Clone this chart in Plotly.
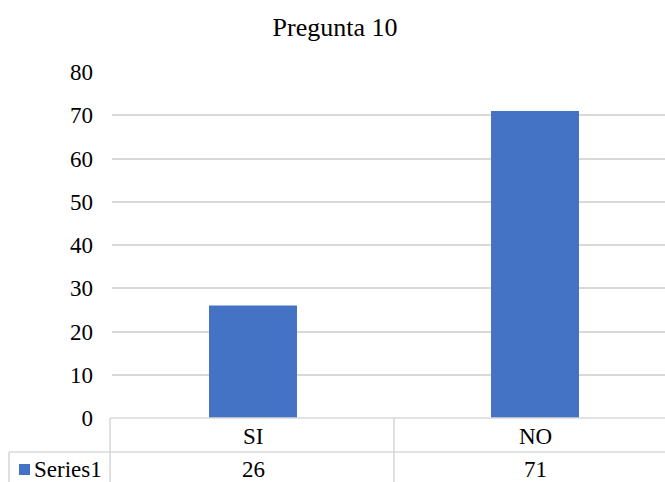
import plotly.graph_objects as go

categories = ["SI", "NO"]
values = [26, 71]
series_name = "Series1"
title_text = "Pregunta 10"
y_ticks = [0, 10, 20, 30, 40, 50, 60, 70, 80]

W, H = 665, 482
L, R, T, B = 112, 0, 72, 64
bar_color = "#4472C4"
grid_color = "#d9d9d9"
font_family = "Liberation Serif"
text_size = 23

plot_w = W - L - R
plot_h = H - T - B


def px_x(px):
    return (px - L) / plot_w


def px_y(py):
    return (H - B - py) / plot_h


fig = go.Figure(
    go.Bar(
        x=categories,
        y=values,
        marker=dict(color=bar_color, line=dict(width=0)),
        name=series_name,
        showlegend=False,
    )
)

# data-table grid under the plot
line_style = dict(color=grid_color, width=1.6)
shapes = [
    dict(type="line", xref="paper", yref="paper", x0=px_x(110), x1=1, y0=0, y1=0, line=line_style),
    dict(type="line", xref="paper", yref="paper", x0=px_x(9), x1=1, y0=px_y(452), y1=px_y(452), line=line_style),
    dict(type="line", xref="paper", yref="paper", x0=px_x(110), x1=px_x(110), y0=0, y1=px_y(482), line=line_style),
    dict(type="line", xref="paper", yref="paper", x0=px_x(394), x1=px_x(394), y0=0, y1=px_y(482), line=line_style),
    dict(type="line", xref="paper", yref="paper", x0=px_x(9), x1=px_x(9), y0=px_y(452), y1=px_y(482), line=line_style),
    # legend key
    dict(type="rect", xref="paper", yref="paper", x0=px_x(19), x1=px_x(30), y0=px_y(475), y1=px_y(464),
         fillcolor=bar_color, line=dict(width=0)),
]

annotations = []
for cat, val in zip(categories, values):
    annotations.append(dict(x=cat, xref="x", y=px_y(436), yref="paper", text=cat, showarrow=False,
                            font=dict(family=font_family, size=text_size, color="#000"), yanchor="middle"))
    annotations.append(dict(x=cat, xref="x", y=px_y(469), yref="paper", text=str(val), showarrow=False,
                            font=dict(family=font_family, size=text_size, color="#000"), yanchor="middle"))
annotations.append(dict(x=px_x(32), xref="paper", y=px_y(469), yref="paper", text=series_name,
                        showarrow=False, xanchor="left", yanchor="middle",
                        font=dict(family=font_family, size=text_size, color="#000")))

fig.update_layout(
    width=W,
    height=H,
    margin=dict(l=L, r=R, t=T, b=B, pad=0),
    paper_bgcolor="white",
    plot_bgcolor="white",
    bargap=0.688,
    title=dict(text=title_text, x=335 / W, xanchor="center", y=1 - 27 / H, yanchor="middle",
               yref="container", font=dict(family=font_family, size=26, color="#000")),
    xaxis=dict(range=[-0.5, -0.5 + plot_w / 282], showticklabels=False, showgrid=False,
               zeroline=False, showline=False, fixedrange=True),
    yaxis=dict(range=[0, 80], tickvals=y_ticks, showgrid=True, gridcolor=grid_color, gridwidth=1.6,
               zeroline=False, showline=False, ticks="", ticklabelstandoff=18,
               tickfont=dict(family=font_family, size=text_size, color="#000")),
    shapes=shapes,
    annotations=annotations,
    font=dict(family=font_family),
)

fig.write_html("out.html")
